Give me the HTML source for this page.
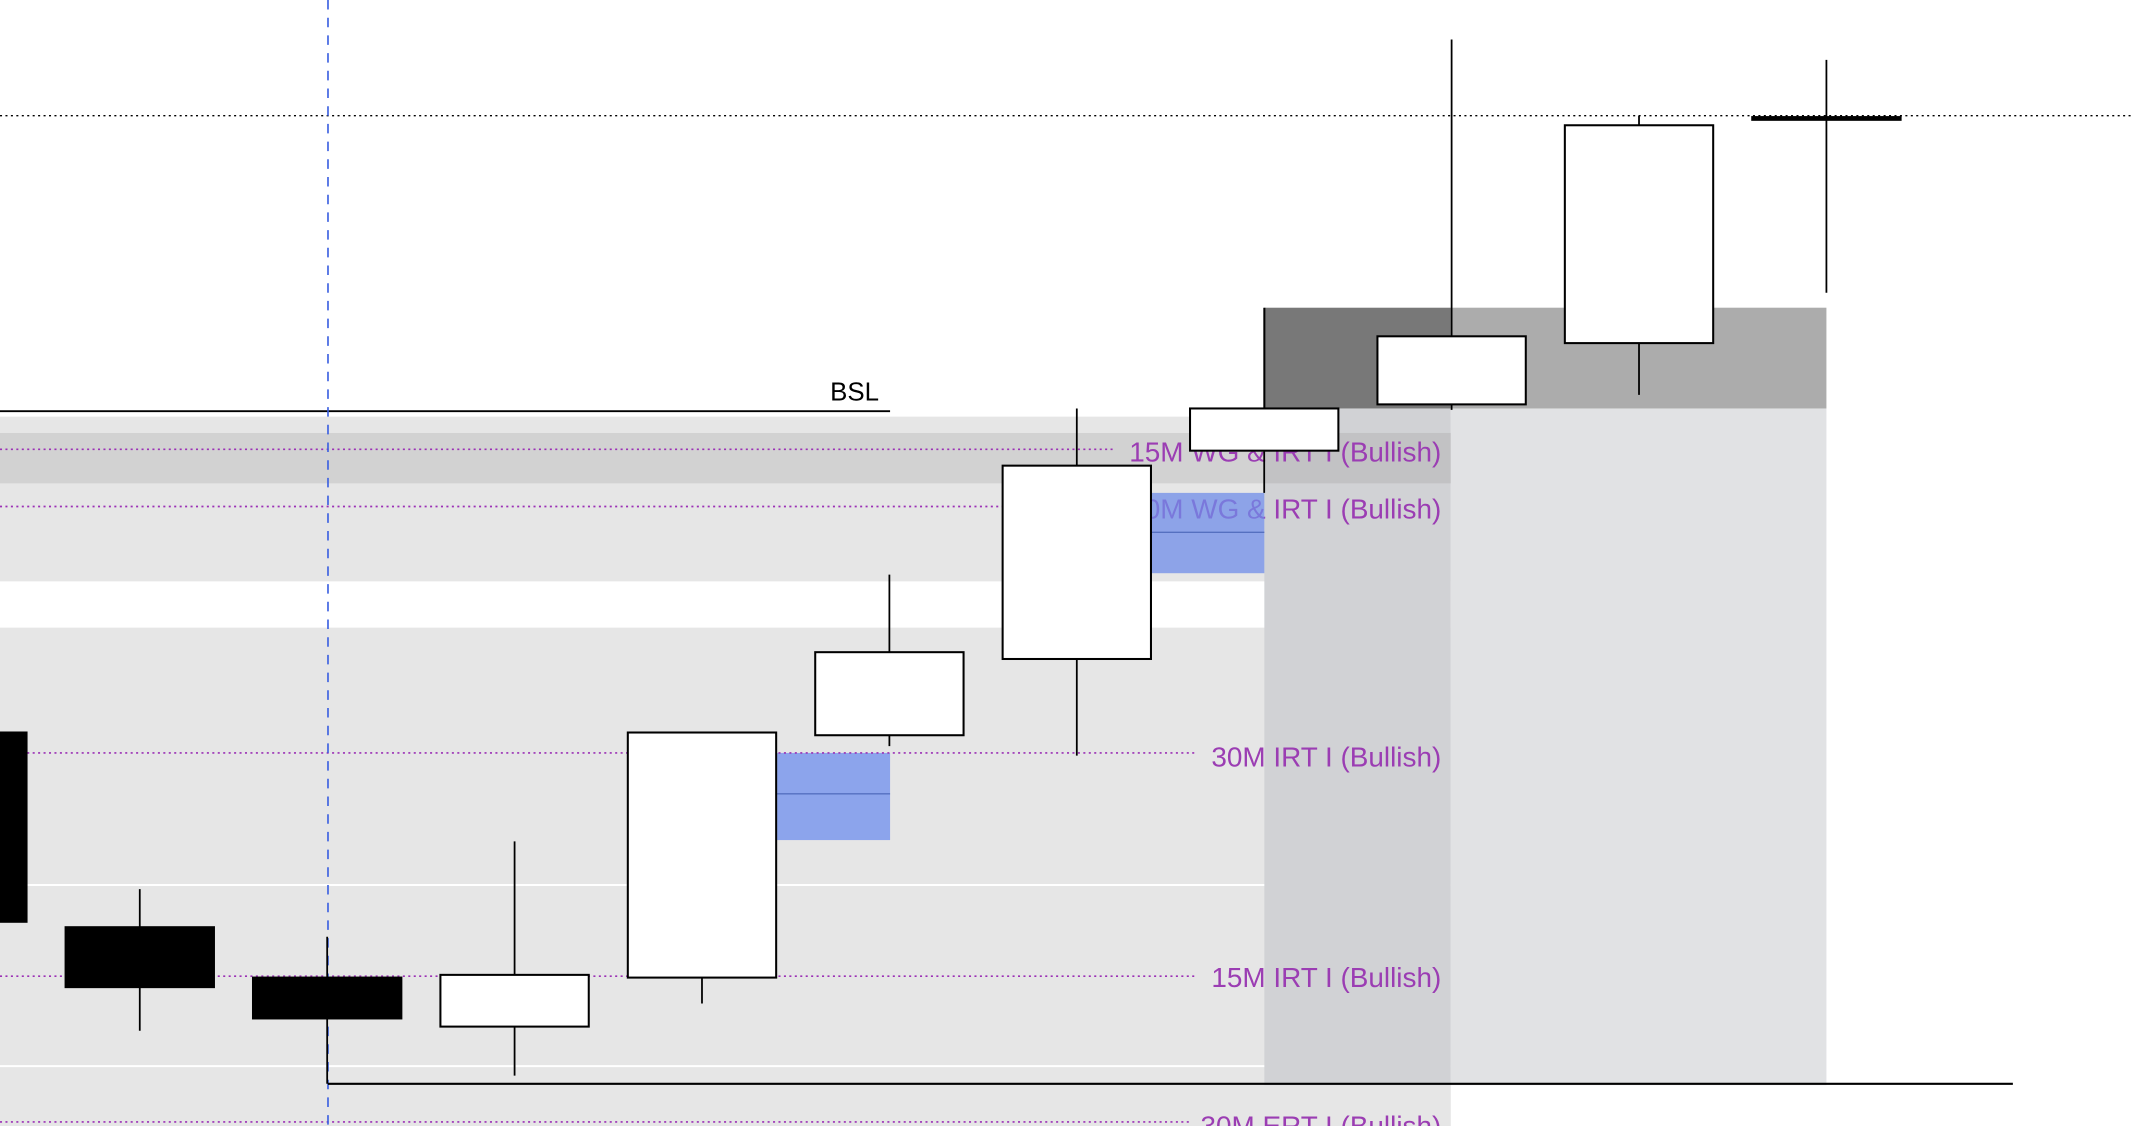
<!DOCTYPE html>
<html><head><meta charset="utf-8"><style>
html,body{margin:0;padding:0;background:#fff;overflow:hidden}
svg{display:block}
text{font-family:"Liberation Sans",sans-serif}
</style></head><body>
<svg id="chart" width="2134" height="1126" viewBox="0 0 1568 827" preserveAspectRatio="none" xmlns="http://www.w3.org/2000/svg">
<g>
<rect x="0" y="306" width="1066" height="121" fill="#e6e6e6"/>
<rect x="0" y="318" width="1066" height="37" fill="#d2d2d2"/>
<rect x="0" y="461" width="1066" height="366" fill="#e6e6e6"/>
<line x1="0" y1="650" x2="1066" y2="650" stroke="#fff" stroke-width="1.5"/>
<line x1="0" y1="783" x2="1066" y2="783" stroke="#fff" stroke-width="1.5"/>
<rect x="929" y="300" width="137" height="497" fill="#d1d2d5"/>
<rect x="929" y="318" width="137" height="37" fill="#c2c2c4"/>
<rect x="1066" y="300" width="276" height="497" fill="#e1e2e4"/>
<rect x="571" y="553" width="83" height="64" fill="#8ca4ec"/>
<line x1="571" y1="583" x2="654" y2="583" stroke="#5570c0" stroke-width="1"/>
</g>
<g stroke="#9b30b5" stroke-width="1.2" stroke-dasharray="1.5 2.5">
<line x1="0" y1="330" x2="820" y2="330"/>
<line x1="0" y1="372" x2="830" y2="372"/>
<line x1="0" y1="553" x2="878" y2="553"/>
<line x1="0" y1="717" x2="878" y2="717"/>
<line x1="0" y1="824" x2="875" y2="824"/>
</g>
<g fill="#9b3db3" font-size="20.5" text-anchor="end">
<text x="1059" y="339">15M WG &amp; IRT I (Bullish)</text>
<text x="1059" y="381">30M WG &amp; IRT I (Bullish)</text>
<text x="1059" y="563">30M IRT I (Bullish)</text>
<text x="1059" y="725">15M IRT I (Bullish)</text>
<text x="1059" y="834">30M ERT I (Bullish)</text>
</g>
<g>
<rect x="846" y="362" width="83" height="59" fill="#6f8ce8" fill-opacity="0.75"/>
<line x1="846" y1="391" x2="929" y2="391" stroke="#5570c0"/>
<rect x="929" y="226" width="137" height="74" fill="#787878"/>
<rect x="1066" y="226" width="276" height="74" fill="#acacac"/>
<line x1="929" y1="226" x2="929" y2="300" stroke="#000" stroke-width="1.5"/>
</g>
<line x1="0" y1="85" x2="1568" y2="85" stroke="#000" stroke-width="1" stroke-dasharray="1.5 2.5"/>
<line x1="0" y1="302" x2="654" y2="302" stroke="#000" stroke-width="1.3"/>
<text x="610" y="294" font-size="19" fill="#000">BSL</text>
<line x1="241" y1="0" x2="241" y2="827" stroke="#3a5fe0" stroke-width="1.2" stroke-dasharray="7 6"/>
<line x1="241" y1="796" x2="1479" y2="796" stroke="#000" stroke-width="1.5"/>
<g id="candles"></g>
</svg>
<script>
const opens  = [46.2, 31.9, 28.2, 24.6, 28.2, 46.0, 51.6, 66.9, 70.3, 74.8, 91.4];
const closes = [32.3, 27.5, 25.2, 28.4, 46.2, 52.1, 65.8, 70.0, 75.3, 90.8, 91.2];
const highs  = [48.0, 34.7, 31.2, 38.2, 46.2, 57.8, 70.0, 70.0, 97.1, 91.5, 95.6];
const lows   = [30.0, 24.3, 20.4, 21.0, 26.3, 45.2, 44.5, 63.8, 69.9, 71.0, 78.5];
const x0 = -35, step = 137.7, bodyW = 109;
function xScale(i){ return x0 + i*step; }
function yScale(p){ return 1000 - p*10; }
const g = document.getElementById('candles');
const NS = 'http://www.w3.org/2000/svg';
for (let i=0;i<opens.length;i++){
  const cx = xScale(i);
  const bull = closes[i] >= opens[i];
  const w = document.createElementNS(NS,'line');
  
  
  w.setAttribute('x1',cx); w.setAttribute('x2',cx);
  w.setAttribute('y1',yScale(highs[i])); w.setAttribute('y2',yScale(lows[i]));
  w.setAttribute('stroke','#000'); w.setAttribute('stroke-width','1.3');
  g.appendChild(w);
  const top = yScale(Math.max(opens[i],closes[i]));
  const bot = yScale(Math.min(opens[i],closes[i]));
  const r = document.createElementNS(NS,'rect');
  
  
  r.setAttribute('x',cx-bodyW/2); r.setAttribute('y',top);
  r.setAttribute('width',bodyW); r.setAttribute('height',Math.max(bot-top,1.5));
  r.setAttribute('fill', bull ? '#fff' : '#000');
  r.setAttribute('stroke','#000'); r.setAttribute('stroke-width','1.5');
  g.appendChild(r);
}
</script>
</body></html>
